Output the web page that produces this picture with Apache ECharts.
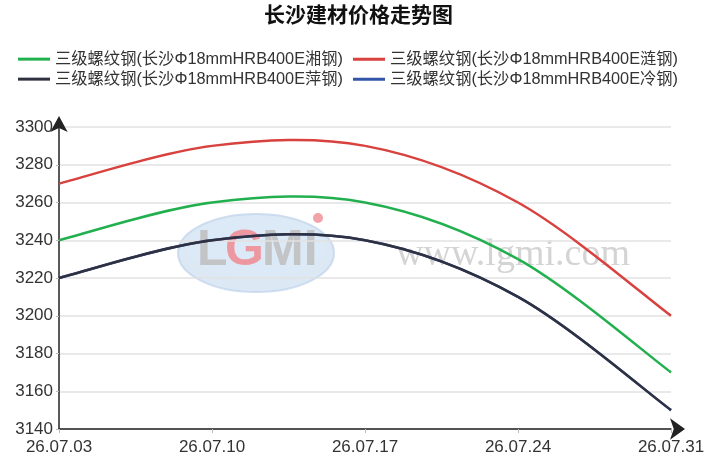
<!DOCTYPE html>
<html>
<head>
<meta charset="utf-8">
<script src="https://cdn.jsdelivr.net/npm/echarts@6/dist/echarts.min.js"></script>
<style>
  html, body { margin: 0; padding: 0; background: #fff; }
  #chart { width: 717px; height: 472px; }
</style>
</head>
<body>
<div id="chart"></div>
<script>
(function (window, echarts) {
    'use strict';

    // 数据
    var dates = ['26.07.03', '26.07.10', '26.07.17', '26.07.24', '26.07.31'];
    var names = [
        '三级螺纹钢(长沙Φ18mmHRB400E湘钢)',
        '三级螺纹钢(长沙Φ18mmHRB400E涟钢)',
        '三级螺纹钢(长沙Φ18mmHRB400E萍钢)',
        '三级螺纹钢(长沙Φ18mmHRB400E冷钢)'
    ];
    var xiangSteel = [3240, 3260, 3260, 3230, 3170];
    var lianSteel  = [3270, 3290, 3290, 3260, 3200];
    var pingSteel  = [3220, 3240, 3240, 3210, 3150];
    var lengSteel  = [3220, 3240, 3240, 3210, 3150];
    var colors = ['#22b04f', '#d8413d', '#2f3140', '#3355a8'];

    var font = '"Liberation Sans", "Noto Sans CJK SC", sans-serif';

    var legendBase = {
        left: 18,
        padding: 0,
        itemWidth: 32,
        itemHeight: 3,
        itemGap: 10,
        icon: 'rect',
        textStyle: { fontSize: 16.3, color: '#333', fontFamily: font }
    };

    // catmull-rom 曲线, 端点用 api.coord 换算
    function spline(idx, values, z) {
        var color = colors[idx];
        return {
            name: names[idx],
            type: 'custom',
            z: z,
            itemStyle: { color: color },
            data: values.map(function (v, i) { return [i, v]; }),
            renderItem: function (params, api) {
                var i = params.dataIndex;
                var n = values.length;
                if (i >= n - 1) return null;
                var pt = function (k) {
                    k = Math.max(0, Math.min(n - 1, k));
                    return api.coord([k, values[k]]);
                };
                var p0 = pt(i - 1), p1 = pt(i), p2 = pt(i + 1), p3 = pt(i + 2);
                return {
                    type: 'bezierCurve',
                    shape: {
                        x1: p1[0], y1: p1[1],
                        x2: p2[0], y2: p2[1],
                        cpx1: p1[0] + (p2[0] - p0[0]) / 6,
                        cpy1: p1[1] + (p2[1] - p0[1]) / 6,
                        cpx2: p2[0] - (p3[0] - p1[0]) / 6,
                        cpy2: p2[1] - (p3[1] - p1[1]) / 6
                    },
                    style: { stroke: color, lineWidth: 2.5, fill: null }
                };
            }
        };
    }

    var chart = echarts.init(document.getElementById('chart'));

    chart.setOption({
        animation: false,
        backgroundColor: '#fff',
        title: {
            text: '长沙建材价格走势图',
            left: 'center',
            top: 6,
            padding: 0,
            textStyle: { fontSize: 21, fontWeight: 'bold', color: '#111', fontFamily: font }
        },
        legend: [
            Object.assign({ top: 51, data: [names[0], names[1]] }, legendBase),
            Object.assign({ top: 71, data: [names[2], names[3]] }, legendBase)
        ],
        grid: { left: 59, right: 46, top: 127, bottom: 43, containLabel: false },
        graphic: [
            {
                type: 'ellipse', z: -1, silent: true,
                shape: { cx: 256, cy: 253, rx: 78, ry: 39 },
                style: { fill: '#d3e3f3', stroke: '#c3d6ec', lineWidth: 2, opacity: 0.8 }
            },
            {
                type: 'ellipse', z: -1, silent: true,
                shape: { cx: 256, cy: 247, rx: 70, ry: 30 },
                style: { fill: '#dce9f6', opacity: 0.8 }
            },
            {
                type: 'text', z: -1, silent: true,
                left: 197, top: 226,
                style: { text: 'L', fill: '#bdbdbd', font: 'bold 50px "Liberation Sans", sans-serif', opacity: 0.85 }
            },
            {
                type: 'text', z: -1, silent: true,
                left: 225, top: 226,
                style: { text: 'G', fill: '#f08a92', font: 'bold 50px "Liberation Sans", sans-serif', opacity: 0.85 }
            },
            {
                type: 'text', z: -1, silent: true,
                left: 262, top: 226,
                style: { text: 'MI', fill: '#bdbdbd', font: 'bold 50px "Liberation Sans", sans-serif', opacity: 0.85 }
            },
            {
                type: 'circle', z: -1, silent: true,
                shape: { cx: 318, cy: 218, r: 5 },
                style: { fill: '#f2a3aa' }
            },
            {
                type: 'text', z: -1, silent: true,
                left: 396, top: 236,
                style: { text: 'www.lgmi.com', fill: '#d4d4d4', font: '38px "Liberation Serif", serif' }
            }
        ],
        xAxis: {
            type: 'category',
            data: dates,
            boundaryGap: false,
            axisLine: {
                show: true,
                symbol: ['none', 'arrow'],
                symbolSize: [16, 15],
                symbolOffset: [0, 14],
                lineStyle: { color: '#222', width: 1.5 }
            },
            axisTick: { show: true, length: 4, lineStyle: { color: '#bbb' } },
            axisLabel: { fontSize: 17, color: '#333', margin: 10, fontFamily: font },
            splitLine: { show: false }
        },
        yAxis: {
            type: 'value',
            min: 3140,
            max: 3300,
            interval: 20,
            axisLine: {
                show: true,
                symbol: ['none', 'arrow'],
                symbolSize: [13, 16],
                symbolOffset: [0, 11],
                lineStyle: { color: '#222', width: 1.5 }
            },
            axisTick: { show: true, length: 3, lineStyle: { color: '#bbb' } },
            axisLabel: {
                fontSize: 17, color: '#333', margin: 6, fontFamily: font,
                formatter: function (v) { return String(v); }
            },
            splitLine: { show: true, lineStyle: { color: '#e2e2e2', width: 1.5 } }
        },
        series: [
            spline(3, lengSteel, 2),
            spline(0, xiangSteel, 3),
            spline(1, lianSteel, 3),
            spline(2, pingSteel, 4)
        ]
    });

})(window, window.echarts);
</script>
</body>
</html>
